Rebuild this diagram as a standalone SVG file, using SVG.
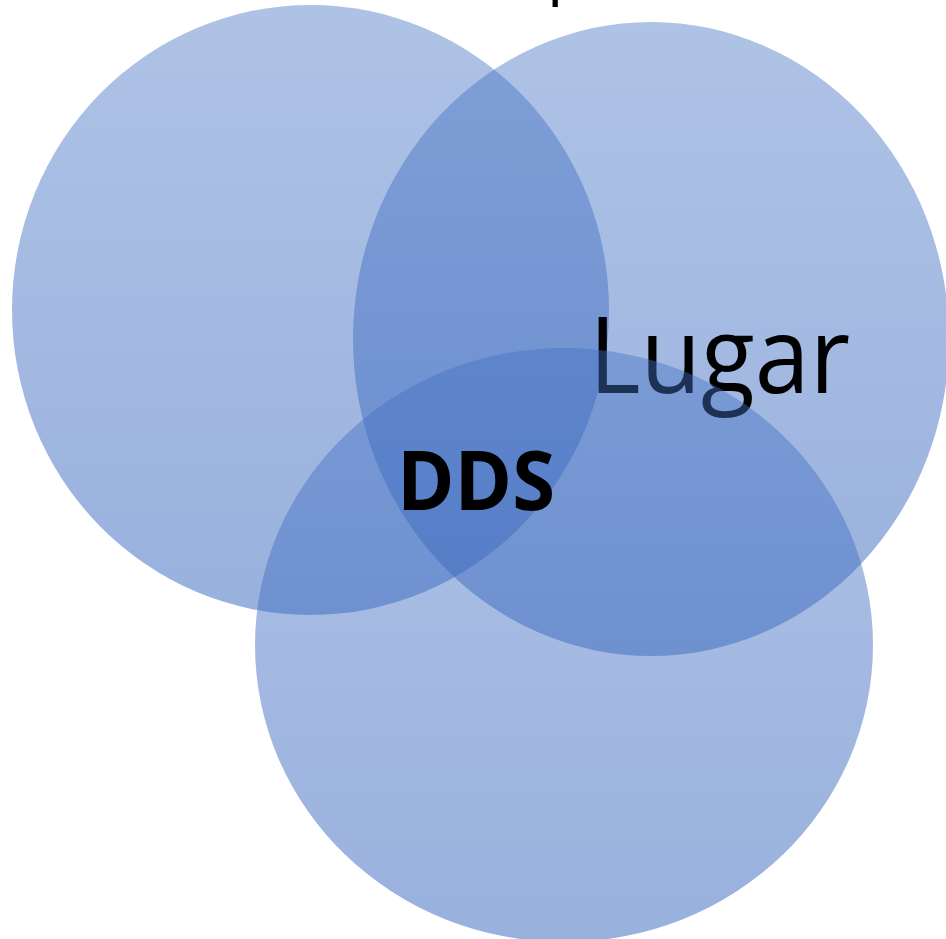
<svg xmlns="http://www.w3.org/2000/svg" width="946" height="939" viewBox="0 0 946 939">
  <style>
    .lbl { fill: #000; font-family: "Open Sans", "Noto Sans", sans-serif; }
  </style>
  <defs>
    <linearGradient id="g" x1="0" y1="0" x2="0" y2="1">
      <stop offset="0" stop-color="#4472C4" stop-opacity="0.43"/>
      <stop offset="1" stop-color="#3A68BE" stop-opacity="0.52"/>
    </linearGradient>
  </defs>
  <rect width="946" height="939" fill="#fff"/>
  <text class="lbl" x="547" y="-9" font-size="65">p</text>
  <g id="circle-left">
    <ellipse cx="310.5" cy="310" rx="298.5" ry="305" fill="url(#g)"/>
  </g>
  <g id="circle-right">
    <ellipse cx="651" cy="339" rx="298" ry="317" fill="url(#g)"/>
    <text class="lbl" x="589" y="393" font-size="106" textLength="261" lengthAdjust="spacingAndGlyphs">Lugar</text>
  </g>
  <g id="circle-bottom">
    <ellipse cx="564" cy="645" rx="309" ry="297" fill="url(#g)"/>
  </g>
  <g id="center">
    <text class="lbl" x="397" y="510" font-size="82" font-weight="bold" textLength="158" lengthAdjust="spacingAndGlyphs">DDS</text>
  </g>
  <g id="connectors"/>
</svg>
